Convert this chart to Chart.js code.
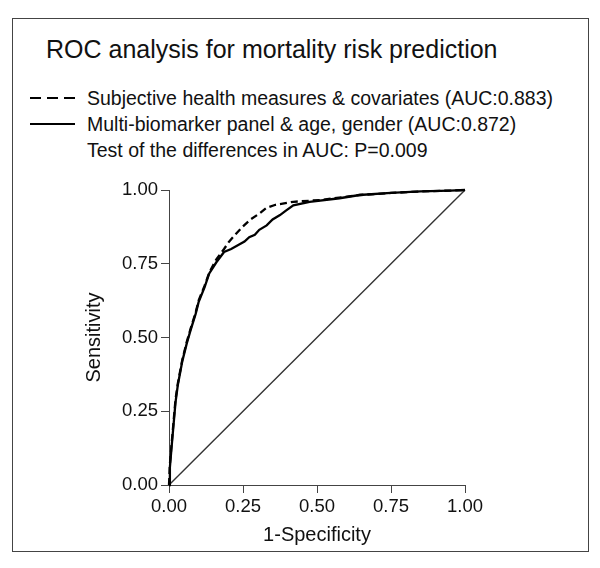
<!DOCTYPE html>
<html lang="en">
<head>
    <meta charset="UTF-8">
    <title>ROC analysis for mortality risk prediction</title>
    <script src="https://cdn.jsdelivr.net/npm/chart.js"></script>
    <style>
        body {
            margin: 0;
            background: #ffffff;
            font-family: "Liberation Sans", Arial, sans-serif;
            color: #111;
        }
        .wrap {
            position: relative;
            width: 600px;
            height: 568px;
        }
        .frame {
            position: absolute;
            left: 12px;
            top: 18px;
            width: 577px;
            height: 534px;
            border: 1px solid #444;
            box-sizing: border-box;
        }
        .title {
            position: absolute;
            left: 46px;
            top: 34px;
            font-size: 25px;
            line-height: 30px;
            white-space: nowrap;
        }
        .legend-row {
            position: absolute;
            left: 30px;
            font-size: 19.5px;
            line-height: 24px;
            height: 24px;
            white-space: nowrap;
            display: flex;
            align-items: center;
        }
        .legend-row svg {
            margin-right: 12px;
        }
        canvas {
            position: absolute;
            left: 0;
            top: 0;
        }
    </style>
</head>
<body>
<div class="wrap">
    <div class="frame"></div>
    <div class="title">ROC analysis for mortality risk prediction</div>
    <div class="legend-row" style="top:86px">
        <svg width="45" height="4"><line x1="0" y1="2" x2="45" y2="2" stroke="#000" stroke-width="2" stroke-dasharray="11 6"/></svg>Subjective health measures &amp; covariates (AUC:0.883)
    </div>
    <div class="legend-row" style="top:112px">
        <svg width="45" height="4"><line x1="0" y1="2" x2="45" y2="2" stroke="#000" stroke-width="2"/></svg>Multi-biomarker panel &amp; age, gender (AUC:0.872)
    </div>
    <div class="legend-row" style="top:138px">
        <svg width="45" height="4"></svg>Test of the differences in AUC: P=0.009
    </div>
    <canvas id="rocChart" width="600" height="568"></canvas>
</div>

<script>
    // values
    const tickValues = [0, 0.25, 0.5, 0.75, 1];

    const subjFpr = [0, 0.003, 0.008, 0.015, 0.022, 0.03, 0.045, 0.06, 0.073, 0.09, 0.10, 0.12, 0.136, 0.16, 0.186, 0.203, 0.225, 0.249, 0.275, 0.305, 0.33, 0.36, 0.42, 0.51, 0.644, 0.75, 0.85, 0.95, 1];
    const subjTpr = [0, 0.07, 0.13, 0.21, 0.29, 0.345, 0.425, 0.485, 0.53, 0.585, 0.625, 0.675, 0.72, 0.765, 0.80, 0.825, 0.85, 0.876, 0.90, 0.92, 0.94, 0.95, 0.96, 0.966, 0.983, 0.99, 0.995, 0.998, 1];

    const bioFpr = [0, 0.003, 0.008, 0.015, 0.022, 0.03, 0.045, 0.06, 0.073, 0.09, 0.10, 0.12, 0.136, 0.16, 0.186, 0.21, 0.237, 0.255, 0.271, 0.29, 0.305, 0.33, 0.35, 0.375, 0.395, 0.42, 0.475, 0.576, 0.644, 0.75, 0.85, 0.95, 1];
    const bioTpr = [0, 0.06, 0.12, 0.20, 0.28, 0.34, 0.42, 0.48, 0.525, 0.58, 0.62, 0.67, 0.717, 0.755, 0.79, 0.80, 0.815, 0.825, 0.84, 0.848, 0.865, 0.88, 0.90, 0.915, 0.93, 0.948, 0.96, 0.972, 0.983, 0.99, 0.995, 0.998, 1];

    const refFpr = [0, 1];
    const refTpr = [0, 1];

    function toPoints(xs, ys) {
        return xs.map((x, i) => ({ x: x, y: ys[i] }));
    }

    const fontFamily = '"Liberation Sans", Arial, sans-serif';

    const axisCommon = {
        type: 'linear',
        min: 0,
        max: 1,
        afterBuildTicks: (scale) => {
            scale.ticks = tickValues.map(v => ({ value: v }));
        },
        ticks: {
            color: '#111',
            padding: 3,
            font: { family: fontFamily, size: 18.5 },
            callback: (v) => v.toFixed(2)
        },
        grid: {
            drawOnChartArea: false,
            drawTicks: true,
            tickLength: 8,
            color: '#444',
            lineWidth: 1
        },
        border: { display: true, color: '#444', width: 1 }
    };

    new Chart(document.getElementById('rocChart').getContext('2d'), {
        type: 'scatter',
        data: {
            datasets: [
                {
                    label: 'Subjective health measures & covariates (AUC:0.883)',
                    data: toPoints(subjFpr, subjTpr),
                    showLine: true,
                    borderColor: '#000',
                    borderWidth: 2.3,
                    borderDash: [7, 4],
                    pointRadius: 0,
                    tension: 0,
                    clip: 4
                },
                {
                    label: 'Multi-biomarker panel & age, gender (AUC:0.872)',
                    data: toPoints(bioFpr, bioTpr),
                    showLine: true,
                    borderColor: '#000',
                    borderWidth: 2.3,
                    pointRadius: 0,
                    tension: 0,
                    clip: 4
                },
                {
                    label: 'Reference',
                    data: toPoints(refFpr, refTpr),
                    showLine: true,
                    borderColor: '#333',
                    borderWidth: 1.4,
                    pointRadius: 0,
                    tension: 0,
                    clip: 4
                }
            ]
        },
        options: {
            responsive: false,
            animation: false,
            layout: {
                padding: { left: 78, right: 135, top: 190, bottom: 17 }
            },
            plugins: {
                legend: { display: false },
                tooltip: { enabled: false }
            },
            scales: {
                x: Object.assign({}, axisCommon, {
                    title: {
                        display: true,
                        text: '1-Specificity',
                        color: '#111',
                        font: { family: fontFamily, size: 20 },
                        padding: { top: 2, bottom: 4 }
                    },
                    afterFit: (scale) => { scale.height = 66; }
                }),
                y: Object.assign({}, axisCommon, {
                    title: {
                        display: true,
                        text: 'Sensitivity',
                        color: '#111',
                        font: { family: fontFamily, size: 20 },
                        padding: { top: 4, bottom: 2 }
                    },
                    afterFit: (scale) => { scale.width = 91; }
                })
            }
        }
    });
</script>
</body>
</html>
